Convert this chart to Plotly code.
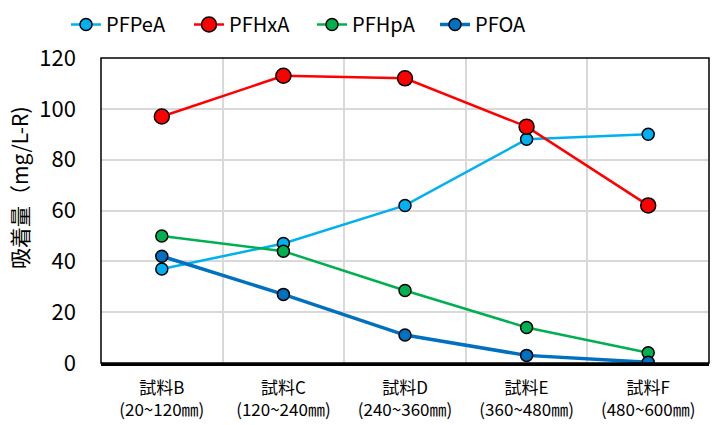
import plotly.graph_objects as go

categories = ["試料B<br>(20~120㎜)", "試料C<br>(120~240㎜)", "試料D<br>(240~360㎜)",
              "試料E<br>(360~480㎜)", "試料F<br>(480~600㎜)"]
pfpea = [37, 47, 62, 88, 90]
pfhxa = [97, 113, 112, 93, 62]
pfhpa = [50, 44, 28.5, 14, 4]
pfoa = [42, 27, 11, 3, 0.3]

series = [
    ("PFPeA", pfpea, "#00B0F0", 2.5, 12),
    ("PFHxA", pfhxa, "#FF0000", 2.5, 15),
    ("PFHpA", pfhpa, "#00B050", 2.5, 12),
    ("PFOA", pfoa, "#0070C0", 3.5, 12),
]

CJK = "Noto Sans CJK JP, sans-serif"

fig = go.Figure()
for name, vals, color, lw, ms in series:
    fig.add_trace(go.Scatter(
        x=categories, y=vals, name=name, mode="lines+markers",
        line=dict(color=color, width=lw),
        marker=dict(size=ms, color=color, line=dict(color="black", width=1.5)),
    ))

W, H = 712, 425
L, R, T, B = 101, 3, 58, 62

fig.update_layout(
    width=W, height=H,
    margin=dict(l=L, r=R, t=T, b=B, autoexpand=False),
    paper_bgcolor="white", plot_bgcolor="white",
    font=dict(family=CJK, size=20, color="black"),
    showlegend=True,
    legend=dict(
        orientation="h", xref="container", yref="container",
        x=66 / W, y=1 - 5 / H, xanchor="left", yanchor="top",
        font=dict(family=CJK, size=20),
        entrywidth=78, entrywidthmode="pixels",
        bgcolor="rgba(0,0,0,0)",
    ),
    annotations=[dict(
        text="吸着量（mg/L-R)", textangle=-90,
        xref="paper", yref="paper",
        x=-(L - 19) / (W - L - R), y=1 - (188 - T) / (H - T - B),
        xanchor="center", yanchor="middle", showarrow=False,
        font=dict(family=CJK, size=21, color="black"),
    )],
    shapes=[dict(type="rect", xref="paper", yref="paper", x0=0, y0=0, x1=1, y1=1,
                 line=dict(color="black", width=1.5), layer="above")],
)

fig.update_xaxes(
    type="category", tickson="boundaries", range=[-0.5, 4.5],
    showgrid=True, gridcolor="#D9D9D9", gridwidth=1.5,
    showline=True, linecolor="black", linewidth=2.5,
    ticks="", ticklabelstandoff=8,
    tickfont=dict(family=CJK, size=17),
)
fig.update_yaxes(
    range=[0, 120], dtick=20,
    showgrid=True, gridcolor="#D9D9D9", gridwidth=1.5,
    showline=False, zeroline=False,
    ticks="", ticklabelstandoff=24,
    tickfont=dict(family=CJK, size=22),
)

fig.write_html("out.html")
